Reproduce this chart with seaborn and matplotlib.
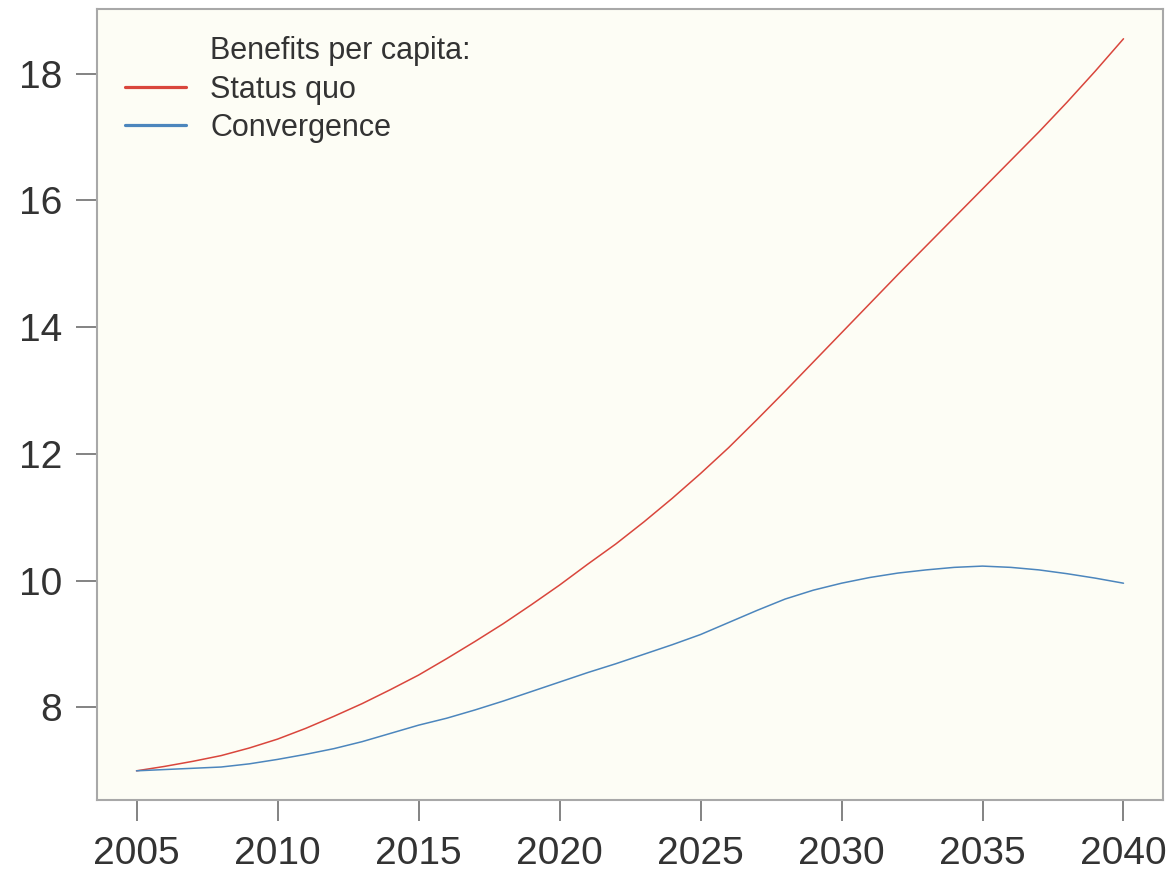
import numpy as np
import pandas as pd
import matplotlib
matplotlib.use("Agg")
import matplotlib.pyplot as plt
from matplotlib.lines import Line2D
import seaborn as sns

years = list(range(2005, 2041))
status_quo = [7.00, 7.07, 7.15, 7.24, 7.36, 7.50, 7.67, 7.86, 8.06, 8.28,
              8.51, 8.77, 9.04, 9.32, 9.62, 9.93, 10.26, 10.58, 10.93, 11.30,
              11.69, 12.10, 12.54, 12.99, 13.45, 13.91, 14.37, 14.83, 15.28, 15.73,
              16.18, 16.63, 17.08, 17.55, 18.04, 18.55]
convergence = [7.00, 7.02, 7.04, 7.06, 7.11, 7.18, 7.26, 7.35, 7.46, 7.59,
               7.72, 7.83, 7.96, 8.10, 8.25, 8.40, 8.55, 8.69, 8.84, 8.99,
               9.15, 9.34, 9.53, 9.71, 9.85, 9.96, 10.05, 10.12, 10.17, 10.21,
               10.23, 10.21, 10.17, 10.11, 10.04, 9.96]
series_names = ["Status quo", "Convergence"]
legend_title = "Benefits per capita:"
x_ticks = [2005, 2010, 2015, 2020, 2025, 2030, 2035, 2040]
y_ticks = [8, 10, 12, 14, 16, 18]

df = pd.DataFrame({
    "year": years * 2,
    "value": status_quo + convergence,
    "series": [series_names[0]] * len(years) + [series_names[1]] * len(years),
})

sns.set_theme(style="ticks")
plt.rcParams["font.family"] = ["Liberation Sans", "DejaVu Sans"]

colors = {"Status quo": "#D9463C", "Convergence": "#4C86BD"}

fig = plt.figure(figsize=(11.72, 8.72), dpi=100)
ax = fig.add_axes([0.0828, 0.0826, 0.9095, 0.9071])
ax.set_facecolor("#FDFDF5")

sns.lineplot(data=df, x="year", y="value", hue="series", palette=colors,
             linewidth=1.1, legend=False, ax=ax)

ax.set_xlim(2003.6, 2041.4)
ax.set_ylim(6.54, 19.02)
ax.set_xticks(x_ticks)
ax.set_yticks(y_ticks)
ax.set_xlabel("")
ax.set_ylabel("")

for sp in ax.spines.values():
    sp.set_visible(True)
    sp.set_color("#A8A8A8")
    sp.set_linewidth(1.5)

ax.tick_params(axis="both", direction="out", length=15, width=1.2,
               color="#6E6E6E", labelsize=28, labelcolor="#333333")
ax.tick_params(axis="x", pad=11)
ax.tick_params(axis="y", pad=10)

handles = [Line2D([], [], color="none", linewidth=0),
           Line2D([], [], color=colors["Status quo"], linewidth=2.3),
           Line2D([], [], color=colors["Convergence"], linewidth=2.3)]
labels = [legend_title] + series_names
leg = ax.legend(handles, labels, loc="upper left", frameon=False,
                fontsize=22, handlelength=2.0, handletextpad=0.8,
                labelspacing=0.27, borderaxespad=0.5,
                bbox_to_anchor=(0.0, 1.0))
for t in leg.get_texts():
    t.set_color("#333333")

fig.savefig("out.png", dpi=100, facecolor="white")
